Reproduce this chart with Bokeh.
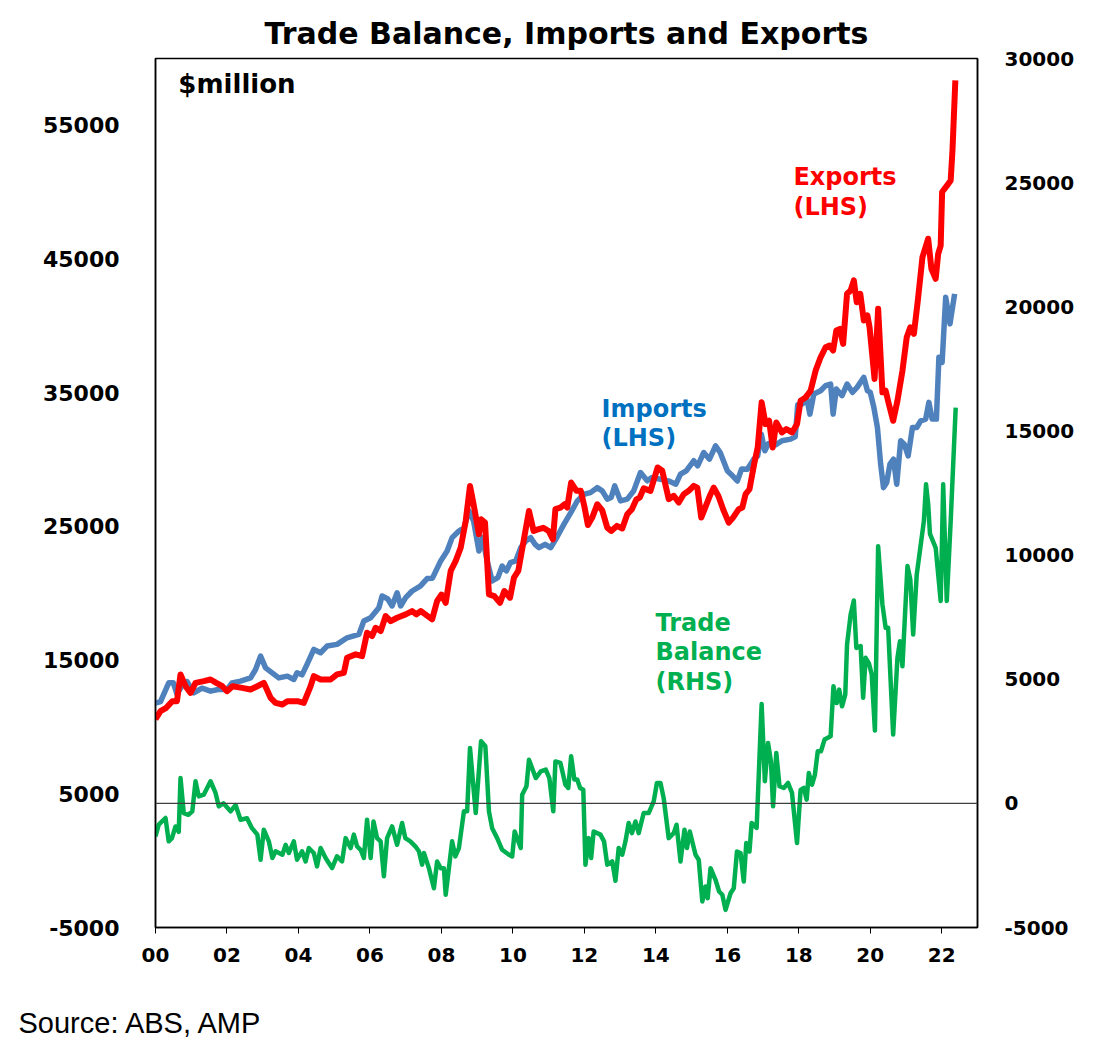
from bokeh.plotting import figure
from bokeh.models import Range1d, LinearAxis, FixedTicker, Span, Label, Title
from bokeh.layouts import column
from bokeh.embed import file_html
from bokeh.resources import INLINE

# ---------------- data (decimal years, $million) ----------------
imp_t = [2000.00, 2000.14, 2000.37, 2000.50, 2000.60, 2000.79, 2000.88, 2001.07, 2001.30, 2001.54,
         2001.75, 2002.00, 2002.14, 2002.38, 2002.66, 2002.80, 2002.94, 2003.08, 2003.31, 2003.45,
         2003.69, 2003.87, 2003.96, 2004.10, 2004.24, 2004.43, 2004.62, 2004.80, 2005.08, 2005.36,
         2005.69, 2005.83, 2006.02, 2006.25, 2006.34, 2006.50, 2006.62, 2006.76, 2006.86, 2007.00,
         2007.18, 2007.41, 2007.60, 2007.75, 2007.98, 2008.16, 2008.30, 2008.49, 2008.63, 2008.77,
         2008.90, 2009.05, 2009.15, 2009.28, 2009.42, 2009.58, 2009.70, 2009.82, 2009.93, 2010.08,
         2010.22, 2010.36, 2010.50, 2010.62, 2010.73, 2010.90, 2011.06, 2011.25, 2011.43, 2011.62,
         2011.80, 2012.00, 2012.17, 2012.36, 2012.50, 2012.64, 2012.75, 2012.85, 2013.01, 2013.20,
         2013.38, 2013.57, 2013.76, 2013.89, 2014.13, 2014.35, 2014.56, 2014.69, 2014.85, 2015.06,
         2015.17, 2015.34, 2015.50, 2015.67, 2015.80, 2016.00, 2016.10, 2016.28, 2016.40, 2016.56,
         2016.74, 2016.85, 2016.95, 2017.05, 2017.15, 2017.35, 2017.53, 2017.77, 2017.90, 2017.97,
         2018.10, 2018.22, 2018.31, 2018.42, 2018.61, 2018.75, 2018.89, 2018.96, 2019.05, 2019.21,
         2019.35, 2019.50, 2019.63, 2019.82, 2019.92, 2020.00, 2020.10, 2020.20, 2020.29, 2020.37,
         2020.46, 2020.55, 2020.65, 2020.74, 2020.85, 2020.95, 2021.06, 2021.18, 2021.30, 2021.41,
         2021.55, 2021.64, 2021.73, 2021.85, 2021.92, 2022.01, 2022.11, 2022.23, 2022.36]
imp_v = [11780, 11900, 13300, 13300, 12450, 13300, 13400, 12550, 12900, 12680,
         12800, 12800, 13300, 13430, 13670, 14300, 15300, 14420, 13950, 13670,
         13800, 13550, 14050, 13900, 14680, 15800, 15550, 16050, 16180, 16670,
         16920, 17920, 18170, 18920, 19800, 19570, 19050, 20040, 19050, 19670,
         20170, 20540, 21100, 21130, 22420, 23160, 24160, 24660, 24900, 26160,
         25400, 23160, 24160, 22420, 20920, 21170, 22040, 21670, 22290, 22420,
         23410, 23910, 24160, 23660, 23410, 23660, 23410, 24280, 25170, 26030,
         26900, 27410, 27530, 27900, 27660, 27040, 27160, 28030, 26910, 27040,
         27660, 29030, 28410, 28650, 28530, 28410, 28160, 28910, 29160, 29910,
         29530, 30530, 30030, 31030, 30530, 29160, 28910, 28400, 29300, 29280,
         30030, 30280, 31900, 30660, 31200, 31100, 31410, 31530, 31700, 34100,
         34150, 34650, 33400, 34900, 35150, 35530, 35650, 33400, 35280, 34780,
         35650, 35030, 35400, 36150, 35150, 35030, 33900, 32400, 29660, 27900,
         28280, 29660, 30030, 28160, 31410, 31150, 30280, 32400, 32400, 32900,
         33030, 34280, 33030, 33030, 37650, 37270, 42140, 40150, 42390]

exp_t = [2000.00, 2000.14, 2000.30, 2000.47, 2000.60, 2000.70, 2000.84, 2000.98, 2001.12, 2001.35,
         2001.54, 2001.70, 2001.87, 2002.00, 2002.16, 2002.42, 2002.66, 2002.85, 2003.03, 2003.22,
         2003.36, 2003.55, 2003.69, 2003.97, 2004.15, 2004.34, 2004.43, 2004.62, 2004.90, 2005.08,
         2005.27, 2005.36, 2005.60, 2005.78, 2005.92, 2006.06, 2006.16, 2006.30, 2006.44, 2006.58,
         2006.76, 2007.00, 2007.18, 2007.30, 2007.42, 2007.55, 2007.74, 2007.88, 2008.00, 2008.12,
         2008.26, 2008.40, 2008.54, 2008.68, 2008.80, 2008.90, 2009.05, 2009.11, 2009.22, 2009.33,
         2009.48, 2009.64, 2009.76, 2009.92, 2010.03, 2010.15, 2010.30, 2010.45, 2010.58, 2010.70,
         2010.85, 2011.00, 2011.12, 2011.19, 2011.33, 2011.45, 2011.52, 2011.63, 2011.78, 2011.90,
         2012.00, 2012.10, 2012.22, 2012.36, 2012.50, 2012.64, 2012.75, 2012.91, 2013.06, 2013.20,
         2013.33, 2013.45, 2013.55, 2013.66, 2013.85, 2014.05, 2014.18, 2014.36, 2014.50, 2014.64,
         2014.78, 2014.92, 2015.06, 2015.16, 2015.27, 2015.40, 2015.53, 2015.62, 2015.75, 2015.90,
         2016.04, 2016.16, 2016.32, 2016.42, 2016.51, 2016.62, 2016.75, 2016.85, 2016.96, 2017.07,
         2017.17, 2017.27, 2017.37, 2017.53, 2017.65, 2017.81, 2017.95, 2018.05, 2018.19, 2018.33,
         2018.47, 2018.61, 2018.75, 2018.86, 2018.96, 2019.05, 2019.15, 2019.24, 2019.35, 2019.45,
         2019.54, 2019.62, 2019.72, 2019.82, 2019.92, 2019.98, 2020.12, 2020.22, 2020.34, 2020.43,
         2020.52, 2020.64, 2020.76, 2020.90, 2021.02, 2021.12, 2021.22, 2021.33, 2021.46, 2021.62,
         2021.71, 2021.83, 2021.90, 2021.97, 2022.01, 2022.15, 2022.25, 2022.30, 2022.38]
exp_v = [10580, 11180, 11430, 11930, 11930, 13930, 13050, 12550, 13300, 13430,
         13550, 13300, 13050, 12680, 13050, 12920, 12800, 13050, 13300, 12180,
         11800, 11680, 11930, 11930, 11800, 13050, 13800, 13550, 13550, 13930,
         14050, 15170, 15430, 15300, 17050, 16800, 17420, 17170, 18300, 17920,
         18170, 18420, 18670, 18420, 18670, 18420, 18050, 19420, 19900, 19290,
         21670, 22420, 23410, 25410, 28030, 26660, 24410, 25540, 25290, 19920,
         19790, 19290, 20170, 19670, 21170, 21670, 23910, 26160, 24660, 24780,
         24900, 24660, 24040, 26290, 26410, 26660, 26410, 28280, 27660, 27660,
         26500, 25100, 25660, 26660, 26200, 24910, 24660, 25040, 24850, 25910,
         26290, 27000, 27160, 27850, 27660, 29410, 29160, 27040, 27290, 26790,
         27410, 27660, 28030, 27900, 25660, 26530, 27410, 27900, 27280, 26160,
         25280, 25660, 26290, 26410, 27410, 27780, 29660, 30910, 34280, 32650,
         32900, 30900, 32780, 32030, 32280, 32030, 32650, 34400, 34650, 35150,
         36650, 37650, 38400, 38530, 38150, 39650, 39780, 38650, 42400, 42650,
         43400, 41770, 42400, 40400, 40780, 39900, 36030, 41280, 35030, 35150,
         34150, 32900, 34400, 36650, 39150, 39900, 39400, 41890, 45140, 46520,
         44270, 43520, 45390, 46010, 50010, 50510, 50880, 53130, 58370]

bal_t = [2000.00, 2000.09, 2000.28, 2000.37, 2000.46, 2000.56, 2000.65, 2000.70, 2000.79, 2000.92,
         2001.03, 2001.12, 2001.21, 2001.35, 2001.54, 2001.68, 2001.77, 2001.90, 2002.10, 2002.24,
         2002.38, 2002.56, 2002.70, 2002.85, 2002.94, 2003.03, 2003.17, 2003.27, 2003.36, 2003.55,
         2003.64, 2003.73, 2003.87, 2003.96, 2004.10, 2004.20, 2004.29, 2004.43, 2004.52, 2004.62,
         2004.76, 2004.94, 2005.08, 2005.22, 2005.32, 2005.46, 2005.55, 2005.64, 2005.74, 2005.83,
         2005.92, 2006.02, 2006.10, 2006.20, 2006.30, 2006.39, 2006.48, 2006.62, 2006.76, 2006.90,
         2006.99, 2007.13, 2007.27, 2007.37, 2007.46, 2007.51, 2007.65, 2007.79, 2007.88, 2007.98,
         2008.07, 2008.12, 2008.30, 2008.39, 2008.49, 2008.63, 2008.72, 2008.80, 2008.96, 2009.11,
         2009.23, 2009.33, 2009.42, 2009.56, 2009.70, 2009.89, 2009.98, 2010.05, 2010.22, 2010.26,
         2010.38, 2010.45, 2010.64, 2010.78, 2010.92, 2011.02, 2011.13, 2011.19, 2011.33, 2011.47,
         2011.55, 2011.63, 2011.72, 2011.80, 2011.88, 2011.97, 2012.03, 2012.12, 2012.19, 2012.26,
         2012.45, 2012.55, 2012.64, 2012.78, 2012.87, 2012.96, 2013.06, 2013.15, 2013.24, 2013.33,
         2013.43, 2013.52, 2013.66, 2013.80, 2013.94, 2014.03, 2014.13, 2014.22, 2014.36, 2014.50,
         2014.58, 2014.69, 2014.80, 2014.87, 2014.95, 2015.11, 2015.20, 2015.30, 2015.39, 2015.45,
         2015.53, 2015.67, 2015.77, 2015.86, 2015.95, 2016.09, 2016.18, 2016.27, 2016.37, 2016.46,
         2016.53, 2016.62, 2016.68, 2016.82, 2016.96, 2017.05, 2017.14, 2017.22, 2017.28, 2017.37,
         2017.46, 2017.58, 2017.70, 2017.81, 2017.95, 2018.05, 2018.14, 2018.22, 2018.28, 2018.37,
         2018.45, 2018.53, 2018.62, 2018.72, 2018.89, 2018.97, 2019.06, 2019.13, 2019.21, 2019.30,
         2019.35, 2019.45, 2019.54, 2019.61, 2019.73, 2019.80, 2019.87, 2019.96, 2020.04, 2020.13,
         2020.22, 2020.34, 2020.43, 2020.50, 2020.64, 2020.76, 2020.83, 2020.90, 2021.04, 2021.12,
         2021.20, 2021.30, 2021.40, 2021.50, 2021.56, 2021.62, 2021.67, 2021.83, 2021.97, 2022.04,
         2022.14, 2022.25, 2022.39]
bal_v = [-1330, -860, -590, -1530, -1400, -930, -1150, 1020, -390, -460,
         -320, 890, 280, 350, 890, 420, -120, 0, -320, -70,
         -660, -600, -1000, -1260, -2270, -1060, -1530, -2200, -1930, -2070,
         -1670, -2000, -1530, -2270, -1930, -2340, -1800, -2000, -2540, -1800,
         -2200, -2610, -2130, -2340, -1400, -1800, -1260, -1730, -1870, -2200,
         -660, -2200, -730, -1400, -1530, -2940, -1400, -930, -1670, -790,
         -1400, -1530, -1730, -1930, -2470, -2000, -2610, -3420, -2340, -2610,
         -2610, -3680, -1530, -2140, -1800, -320, -320, 2230, -390, 2500,
         2300, -320, -1000, -1400, -1870, -2070, -2140, -1130, -1800, 350,
         690, 1760, 1020, 1290, 1360, 1020, -320, 1690, 1630, 750,
         620, 1900, 960, 960, 620, 550, -2470, -1400, -2200, -1130,
         -1260, -1530, -2470, -2340, -3120, -1800, -2070, -1530, -790, -1200,
         -730, -1200, -390, -390, 80, 820, 820, 200, -1400, -1200,
         -860, -2340, -1060, -1800, -1130, -2070, -2270, -3950, -3350, -3820,
         -2610, -3080, -3550, -3680, -4290, -3620, -3420, -1940, -2000, -3150,
         -1600, -1940, -790, -990, 4000, 890, 2430, 1690, -120, 2030,
         690, 620, 820, 420, -1600, 540, 620, 150, 1220, 750,
         1150, 2100, 2100, 2570, 2700, 4720, 4040, 4580, 3910, 4380,
         6400, 7610, 8170, 6260, 6330, 4250, 5860, 5650, 5190, 2930,
         10360, 8010, 7070, 7070, 2770, 5860, 6530, 5520, 9560, 9020,
         6800, 9220, 10290, 11370, 12850, 12050, 10850, 10290, 8150, 12850,
         8150, 11370, 15940]

x_ticks = [2000, 2002, 2004, 2006, 2008, 2010, 2012, 2014, 2016, 2018, 2020, 2022]
x_labels = ["00", "02", "04", "06", "08", "10", "12", "14", "16", "18", "20", "22"]
left_ticks = [-5000, 5000, 15000, 25000, 35000, 45000, 55000]
right_ticks = [-5000, 0, 5000, 10000, 15000, 20000, 25000, 30000]

RED = "#FF0000"
BLUE = "#4F81BD"
GREEN = "#00B050"
FONT = "DejaVu Sans"

p = figure(width=1105, height=972,
           x_range=Range1d(2000, 2023), y_range=Range1d(-5000, 60000),
           output_backend="svg", toolbar_location=None,
           min_border_left=155, min_border_right=128,
           min_border_top=58, min_border_bottom=45)
p.extra_y_ranges = {"right": Range1d(-5000, 30000)}

p.background_fill_color = "white"
p.border_fill_color = "white"
p.outline_line_color = "black"
p.outline_line_width = 1.5
p.xgrid.visible = False
p.ygrid.visible = False

p.title.text = "Trade Balance, Imports and Exports"
p.title.text_font = FONT
p.title.text_font_size = "30px"
p.title.text_font_style = "bold"
p.title.align = "center"
p.title.text_color = "black"
p.title.standoff = 15

# x axis
xa = p.xaxis[0]
xa.ticker = FixedTicker(ticks=x_ticks)
xa.major_label_overrides = {t: l for t, l in zip(x_ticks, x_labels)}
xa.major_label_text_font = FONT
xa.major_label_text_font_style = "bold"
xa.major_label_text_font_size = "20px"
xa.major_label_text_color = "black"
xa.major_tick_in = 0
xa.major_tick_out = 6
xa.major_tick_line_color = "black"
xa.minor_tick_line_color = None
xa.axis_line_color = "black"
xa.axis_line_width = 1.5
xa.major_label_standoff = 14

# left axis
ya = p.yaxis[0]
ya.ticker = FixedTicker(ticks=left_ticks)
ya.major_label_overrides = {-5000: "-5000"}
ya.major_label_text_font = FONT
ya.major_label_text_font_style = "bold"
ya.major_label_text_font_size = "22px"
ya.major_label_text_color = "black"
ya.major_tick_line_color = None
ya.minor_tick_line_color = None
ya.axis_line_color = "black"
ya.axis_line_width = 1.5
ya.major_label_standoff = 30

# right axis
ra = LinearAxis(y_range_name="right")
ra.ticker = FixedTicker(ticks=right_ticks)
ra.major_label_overrides = {-5000: "-5000"}
ra.major_label_text_font = FONT
ra.major_label_text_font_style = "bold"
ra.major_label_text_font_size = "20px"
ra.major_label_text_color = "black"
ra.major_tick_line_color = None
ra.minor_tick_line_color = None
ra.axis_line_color = "black"
ra.axis_line_width = 1.5
ra.major_label_standoff = 21
p.add_layout(ra, "right")

# zero line of the right-hand scale
p.add_layout(Span(location=0, dimension="width", y_range_name="right",
                  line_color="#404040", line_width=1.3))

# series
p.line(bal_t, bal_v, y_range_name="right", line_color=GREEN, line_width=4.5,
       line_join="round")
p.line(imp_t, imp_v, line_color=BLUE, line_width=5.5, line_join="round")
p.line(exp_t, exp_v, line_color=RED, line_width=6, line_join="round")

def add_label(fig, x, y, text, color, size, style="bold", font=FONT):
    fig.add_layout(Label(x=x, y=y, text=text, text_color=color, text_font=font,
                         text_font_style=style, text_font_size=size,
                         text_align="left", text_baseline="middle"))

add_label(p, 2000.64, 58130, "$million", "black", "26px")
add_label(p, 2017.85, 51170, "Exports", RED, "24px")
add_label(p, 2017.85, 48860, "(LHS)", RED, "24px")
add_label(p, 2012.48, 33820, "Imports", "#0070C0", "24px")
add_label(p, 2012.48, 31580, "(LHS)", "#0070C0", "24px")
add_label(p, 2013.99, 17810, "Trade", GREEN, "24px")
add_label(p, 2013.99, 15570, "Balance", GREEN, "24px")
add_label(p, 2013.99, 13330, "(RHS)", GREEN, "24px")

# source note strip under the chart
note = figure(width=1105, height=75, x_range=Range1d(0, 1), y_range=Range1d(0, 1),
              output_backend="svg", toolbar_location=None,
              min_border_left=155, min_border_right=128, min_border_top=0,
              min_border_bottom=0)
note.axis.visible = False
note.xgrid.visible = False
note.ygrid.visible = False
note.outline_line_color = None
note.background_fill_color = "white"
note.border_fill_color = "white"
note.add_layout(Title(text="Source: ABS, AMP", align="left", offset=-137, standoff=18,
                      text_font="Liberation Sans", text_font_size="29px",
                      text_font_style="normal", text_color="black"), "below")

layout = column(p, note, spacing=0)
open("out.html", "w").write(file_html(layout, INLINE))
